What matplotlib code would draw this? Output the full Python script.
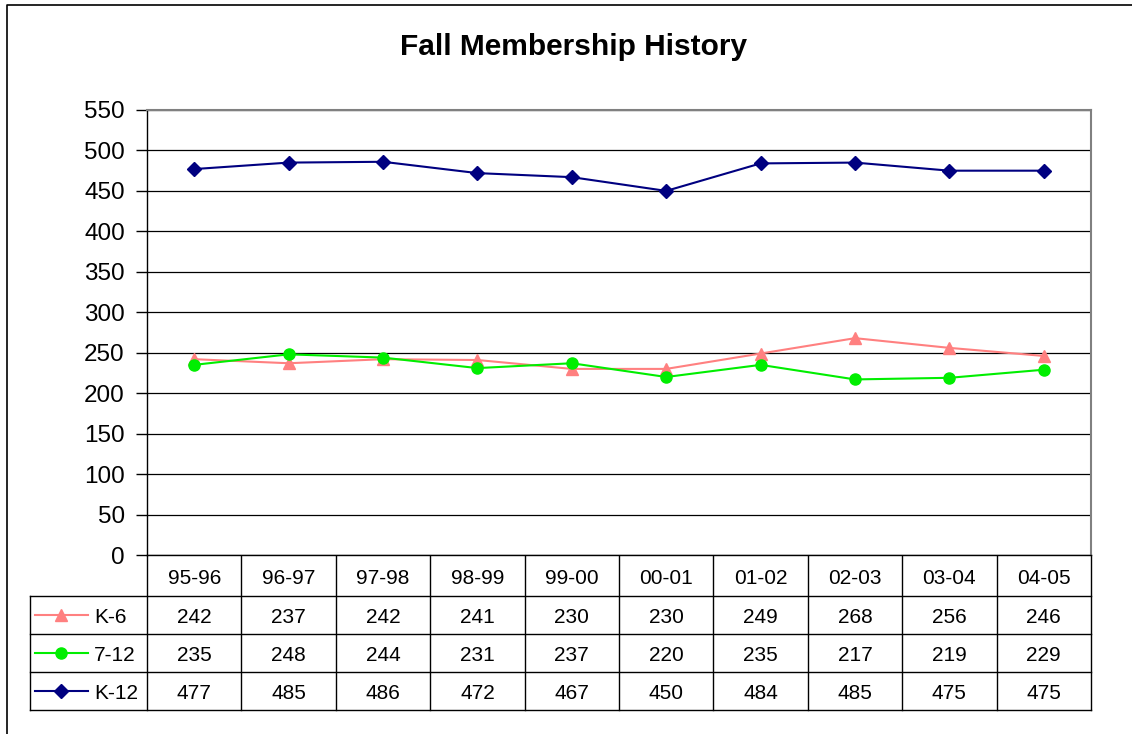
import matplotlib.pyplot as plt
from matplotlib.lines import Line2D

plt.rcParams['font.family'] = ['Liberation Sans', 'DejaVu Sans']

years = ['95-96', '96-97', '97-98', '98-99', '99-00', '00-01', '01-02', '02-03', '03-04', '04-05']
k6 = [242, 237, 242, 241, 230, 230, 249, 268, 256, 246]
g712 = [235, 248, 244, 231, 237, 220, 235, 217, 219, 229]
k12 = [477, 485, 486, 472, 467, 450, 484, 485, 475, 475]

series = [
    ('K-6', k6, '#FF8080', '^'),
    ('7-12', g712, '#00EE00', 'o'),
    ('K-12', k12, '#000080', 'D'),
]

W, H = 1132, 734
fig = plt.figure(figsize=(W / 100, H / 100), dpi=100)

# plot area in pixels
px_left, px_right, px_top, px_bot = 147, 1091, 110, 555
ax = fig.add_axes([px_left / W, 1 - px_bot / H, (px_right - px_left) / W, (px_bot - px_top) / H])

x = list(range(len(years)))
for name, vals, col, mk in series:
    ax.plot(x, vals, color=col, marker=mk, markersize=8 if mk != 'D' else 7,
            lw=1.5, label=name, zorder=3)

ax.set_xlim(-0.5, len(years) - 0.5)
ax.set_ylim(0, 550)
ax.set_yticks(range(0, 551, 50))
ax.yaxis.grid(True, color='black', lw=0.9)
ax.set_xticks([])
ax.tick_params(axis='y', labelsize=17.5, length=8, width=1, pad=8)
for s in ['top', 'right']:
    ax.spines[s].set_color('#808080')
    ax.spines[s].set_linewidth(1.5)
for s in ['left', 'bottom']:
    ax.spines[s].set_color('black')
    ax.spines[s].set_linewidth(1)

fig.text(0.507, 1 - 47 / H, 'Fall Membership History', ha='center', va='center',
         fontsize=21.5, fontweight='bold')

# overlay in pixel coordinates for the data table and frame
ov = fig.add_axes([0, 0, 1, 1], zorder=-1)
ov.set_xlim(0, W)
ov.set_ylim(H, 0)
ov.axis('off')
ov.patch.set_alpha(0)

colw = (px_right - px_left) / len(years)
row_h = [(555, 596), (596, 634), (634, 672), (672, 710)]
tab_left = 30
dy = 2.5

# horizontal lines
for y in [596, 634, 672, 710]:
    ov.plot([tab_left, px_right], [y, y], color='black', lw=1)
# vertical lines
for i in range(len(years) + 1):
    ov.plot([px_left + i * colw] * 2, [555, 710], color='black', lw=1)
ov.plot([tab_left, tab_left], [596, 710], color='black', lw=1)

# header
hy = (row_h[0][0] + row_h[0][1]) / 2 + dy
for i, yr in enumerate(years):
    ov.text(px_left + (i + 0.5) * colw, hy, yr, ha='center', va='center', fontsize=15)

# rows
for r, (name, vals, col, mk) in enumerate(series):
    y0, y1 = row_h[r + 1]
    cy = (y0 + y1) / 2
    ov.plot([35, 88], [cy, cy], color=col, lw=1.5)
    ov.plot([61], [cy], marker=mk, color=col, markersize=8 if mk != 'D' else 7)
    ov.text(94, cy + dy, name, ha='left', va='center', fontsize=15)
    for i, v in enumerate(vals):
        ov.text(px_left + (i + 0.5) * colw, cy + dy, str(v), ha='center', va='center', fontsize=15)

# chart frame
fig.add_artist(Line2D([7 / W, 7 / W, 1], [0, 1 - 5 / H, 1 - 5 / H], color='black', lw=1.2))

fig.savefig('out.png', dpi=100)
